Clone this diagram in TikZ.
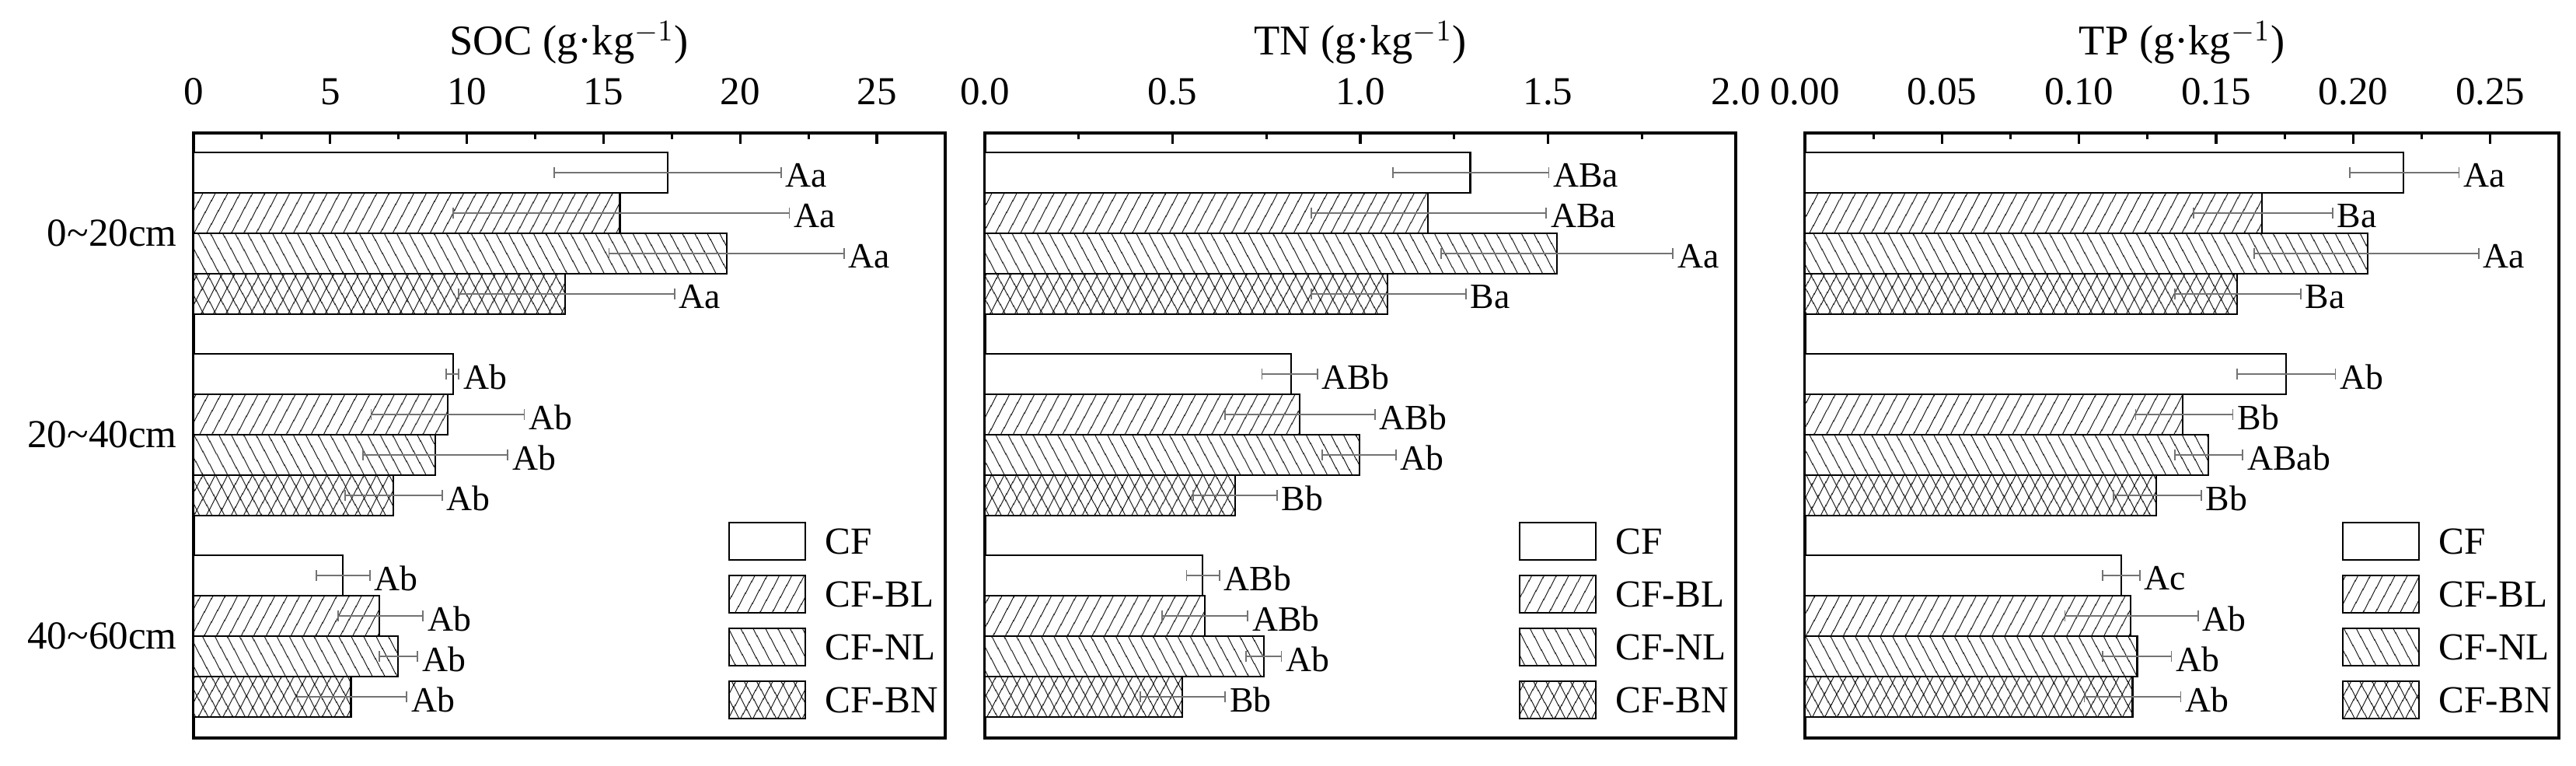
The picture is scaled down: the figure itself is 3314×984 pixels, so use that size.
\documentclass[tikz,border=0pt]{standalone}
\usepackage{fontspec}
\setmainfont{Liberation Serif}
\usetikzlibrary{patterns.meta}
\tikzset{
  frame/.style={line width=0.9pt},
  bar/.style={line width=0.6pt,fill=white},
  cf/.style={},
  bl/.style={postaction={pattern={Lines[angle=62,distance=0.14cm,line width=0.35pt]}}},
  nl/.style={postaction={pattern={Lines[angle=-62,distance=0.14cm,line width=0.35pt]}}},
  bn/.style={postaction={pattern={Lines[angle=62,distance=0.14cm,line width=0.35pt]}},
             postaction={pattern={Lines[angle=-62,distance=0.14cm,line width=0.35pt]}}},
  err/.style={line width=0.5pt,draw=black!55},
  lab/.style={anchor=west,inner sep=1.5pt,font=\fontsize{13}{14}\selectfont},
  tick/.style={font=\fontsize{14.5}{16}\selectfont},
  ttl/.style={font=\fontsize{15.5}{18}\selectfont},
  grp/.style={anchor=east,inner sep=0pt,font=\fontsize{14.5}{16}\selectfont},
  leg/.style={anchor=west,inner sep=0pt,font=\fontsize{14}{16}\selectfont}
}
% #1 x0, #2 scale, #3 top y, #4 style, #5 value, #6 lo, #7 hi, #8 label
\newcommand\mybar[8]{%
  \draw[bar,#4] (#1,#3) rectangle ({#1+#2*#5},#3+52);
  \draw[err] ({#1+#2*#6},#3+26) -- ({#1+#2*#7},#3+26);
  \draw[err] ({#1+#2*#6},#3+19) -- ({#1+#2*#6},#3+33);
  \draw[err] ({#1+#2*#7},#3+19) -- ({#1+#2*#7},#3+33);
  \node[lab] at ({#1+#2*#7},#3+30) {#8};}
% legend: #1 right edge of panel, #2 prefix
\newcommand\mylegend[2]{%
  \foreach \s/\t [count=\i from 0] in {cf/CF,bl/CF-BL,nl/CF-NL,bn/CF-BN}{
    \draw[bar,\s] (#1-278,672+68*\i) rectangle (#1-180,720+68*\i);
    \node[leg] (#2\i) at (#1-155,696+68*\i) {\t};
  }}
\begin{document}
\begin{tikzpicture}[x=0.01cm,y=-0.01cm]
\useasboundingbox (0,0) rectangle (3314,984);

% Panel 1
\draw[frame] (249,171) rectangle (1216,949);
\foreach \v in {0,5,...,25}{\draw[frame] ({249+35.16*\v},171) -- ++(0,14);
  \node[tick] at ({249+35.16*\v},118) {\v};}
\foreach \v in {2.5,7.5,...,27.5}{\draw[frame] ({249+35.16*\v},171) -- ++(0,8);}
\node[ttl] (t1) at (732,55) {SOC (g·kg$^{-1}$)};
% Panel 2
\draw[frame] (1267,171) rectangle (2233,949);
\foreach \v/\l in {0/0.0,0.5/0.5,1/1.0,1.5/1.5,2/2.0}{\draw[frame] ({1267+483*\v},171) -- ++(0,14);
  \node[tick] at ({1267+483*\v},118) {\l};}
\foreach \v in {0.25,0.75,1.25,1.75}{\draw[frame] ({1267+483*\v},171) -- ++(0,8);}
\node[ttl] (t2) at (1750,55) {TN (g·kg$^{-1}$)};
% Panel 3
\draw[frame] (2322,171) rectangle (3292,949);
\foreach \v/\l in {0/0.00,0.05/0.05,0.1/0.10,0.15/0.15,0.2/0.20,0.25/0.25}{\draw[frame] ({2322+3527*\v},171) -- ++(0,14);
  \node[tick] at ({2322+3527*\v},118) {\l};}
\foreach \v in {0.025,0.075,0.125,0.175,0.225,0.275}{\draw[frame] ({2322+3527*\v},171) -- ++(0,8);}
\node[ttl] (t3) at (2807,55) {TP (g·kg$^{-1}$)};

% group labels
\node[grp] (g1) at (228,300) {0\char`~20cm};
\node[grp] (g2) at (228,559) {20\char`~40cm};
\node[grp] (g3) at (228,818) {40\char`~60cm};

% Panel 1 bars (SOC)
\mybar{249}{35.16}{196}{cf}{17.35}{13.2}{21.5}{Aa}
\mybar{249}{35.16}{248}{bl}{15.6}{9.5}{21.8}{Aa}
\mybar{249}{35.16}{300}{nl}{19.5}{15.2}{23.8}{Aa}
\mybar{249}{35.16}{352}{bn}{13.6}{9.7}{17.6}{Aa}
\mybar{249}{35.16}{455}{cf}{9.5}{9.25}{9.7}{Ab}
\mybar{249}{35.16}{507}{bl}{9.3}{6.5}{12.1}{Ab}
\mybar{249}{35.16}{559}{nl}{8.85}{6.2}{11.5}{Ab}
\mybar{249}{35.16}{611}{bn}{7.3}{5.55}{9.1}{Ab}
\mybar{249}{35.16}{714}{cf}{5.47}{4.5}{6.45}{Ab}
\mybar{249}{35.16}{766}{bl}{6.8}{5.3}{8.4}{Ab}
\mybar{249}{35.16}{818}{nl}{7.47}{6.8}{8.2}{Ab}
\mybar{249}{35.16}{870}{bn}{5.76}{3.8}{7.8}{Ab}

% Panel 2 bars (TN)
\mybar{1267}{483}{196}{cf}{1.293}{1.087}{1.502}{ABa}
\mybar{1267}{483}{248}{bl}{1.181}{0.869}{1.495}{ABa}
\mybar{1267}{483}{300}{nl}{1.524}{1.215}{1.833}{Aa}
\mybar{1267}{483}{352}{bn}{1.073}{0.869}{1.281}{Ba}
\mybar{1267}{483}{455}{cf}{0.815}{0.738}{0.886}{ABb}
\mybar{1267}{483}{507}{bl}{0.838}{0.640}{1.039}{ABb}
\mybar{1267}{483}{559}{nl}{0.997}{0.898}{1.095}{Ab}
\mybar{1267}{483}{611}{bn}{0.666}{0.555}{0.778}{Bb}
\mybar{1267}{483}{714}{cf}{0.580}{0.537}{0.625}{ABb}
\mybar{1267}{483}{766}{bl}{0.585}{0.472}{0.700}{ABb}
\mybar{1267}{483}{818}{nl}{0.743}{0.695}{0.790}{Ab}
\mybar{1267}{483}{870}{bn}{0.525}{0.414}{0.640}{Bb}

% Panel 3 bars (TP)
\mybar{2322}{3527}{196}{cf}{0.2183}{0.1988}{0.2386}{Aa}
\mybar{2322}{3527}{248}{bl}{0.1667}{0.1417}{0.1925}{Ba}
\mybar{2322}{3527}{300}{nl}{0.2052}{0.1639}{0.2458}{Aa}
\mybar{2322}{3527}{352}{bn}{0.1576}{0.1349}{0.1808}{Ba}
\mybar{2322}{3527}{455}{cf}{0.1755}{0.1576}{0.1935}{Ab}
\mybar{2322}{3527}{507}{bl}{0.1379}{0.1206}{0.1561}{Bb}
\mybar{2322}{3527}{559}{nl}{0.1472}{0.1349}{0.1597}{ABab}
\mybar{2322}{3527}{611}{bn}{0.1282}{0.1125}{0.1445}{Bb}
\mybar{2322}{3527}{714}{cf}{0.1153}{0.1085}{0.1222}{Ac}
\mybar{2322}{3527}{766}{bl}{0.1189}{0.0948}{0.1434}{Ab}
\mybar{2322}{3527}{818}{nl}{0.1212}{0.1085}{0.1337}{Ab}
\mybar{2322}{3527}{870}{bn}{0.1195}{0.1019}{0.1371}{Ab}

% legends
\mylegend{1216}{la}
\mylegend{2233}{lb}
\mylegend{3292}{lc}
\end{tikzpicture}
\end{document}
